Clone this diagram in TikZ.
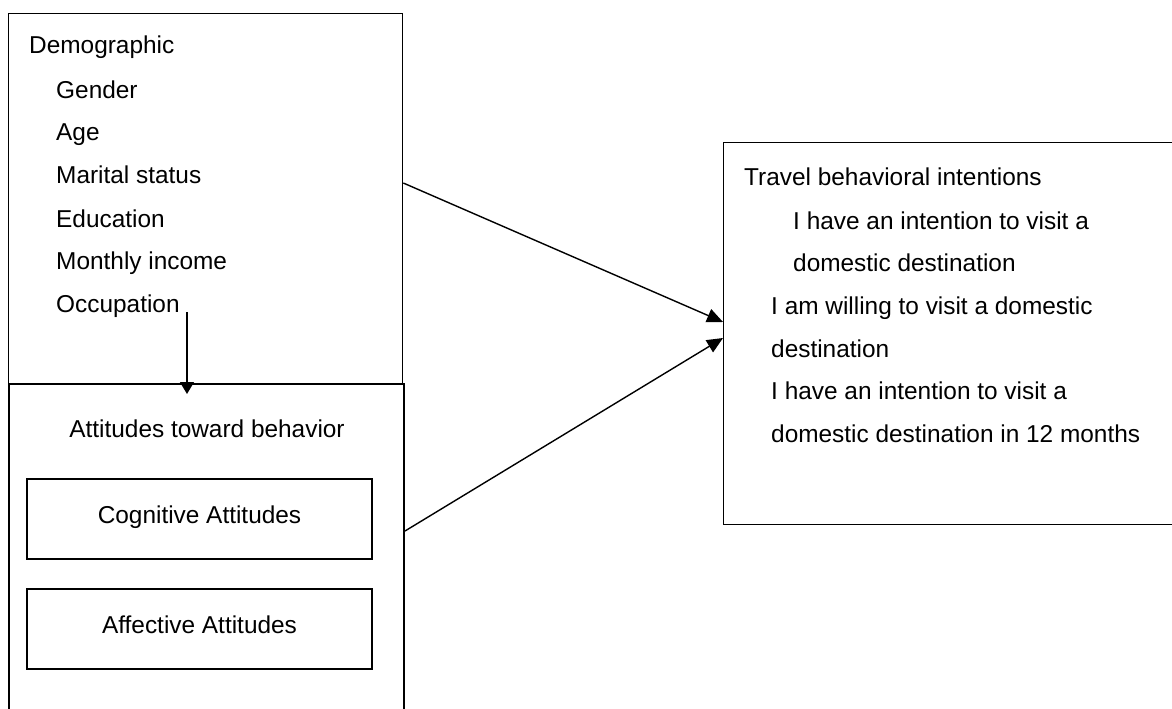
\documentclass[tikz,border=0pt]{standalone}
\usepackage{fontspec}
\setmainfont{Liberation Sans}
\usetikzlibrary{arrows.meta}
\begin{document}
\begin{tikzpicture}[x=1pt,y=-1pt,
  txt/.style={inner sep=0pt, anchor=base west, font=\fontsize{24.4}{28}\selectfont},
  ctxt/.style={txt, anchor=base},
  frame/.style={draw, line width=1.3pt, inner sep=0pt, anchor=north west},
  subbox/.style={draw, line width=1.5pt, inner sep=0pt, minimum width=345pt,
    minimum height=80pt, text height=17pt, text depth=9pt,
    font=\fontsize{24.4}{28}\selectfont},
  arr/.style={line width=1.4pt, -{Triangle[length=16pt,width=14pt]}},
  arrs/.style={line width=1.4pt, -{Triangle[length=12pt,width=14pt]}}
]
\useasboundingbox (0,0) rectangle (1172,709);

% outer frames
\node[frame, minimum width=394pt, minimum height=370pt] (demo) at (8,13) {};
\node[frame, line width=2pt, minimum width=395pt, minimum height=360pt] (att) at (8,383) {};
\node[frame, minimum width=470pt, minimum height=382pt] (tbi) at (723,142) {};

% demographic variables
\node[txt] (demot) at (29,54) {Demographic};
\node[txt] (gen) at (56,98) {Gender};
\node[txt] (age) at (56,140) {Age};
\node[txt] (mar) at (56,183) {Marital status};
\node[txt] (edu) at (56,227) {Education};
\node[txt] (inc) at (56,269) {Monthly income};
\node[txt] (occ) at (56,312) {Occupation};

% attitudes
\node[ctxt] (attt) at (207,437) {Attitudes toward behavior};
\node[subbox] (cog) at (199.5,519) {Cognitive Attitudes};
\node[subbox] (aff) at (199.5,629) {Affective Attitudes};

% travel behavioural intentions
\node[txt] (tbit) at (744,185) {Travel behavioral intentions};
\node[txt] (i1a) at (793,229) {I have an intention to visit a};
\node[txt] (i1b) at (793,271) {domestic destination};
\node[txt] (i2a) at (771,314) {I am willing to visit a domestic};
\node[txt] (i2b) at (771,357) {destination};
\node[txt] (i3a) at (771,399) {I have an intention to visit a};
\node[txt] (i3b) at (771,442) {domestic destination in 12 months};

% connector end points
\coordinate (s1) at (demo.east |- mar.base);
\coordinate (s2) at (att.north east |- 0,531);
\coordinate (t1) at (tbi.north west |- 0,322);
\coordinate (t2) at (tbi.north west |- 0,338);
\coordinate (dtop) at (187,312);
\coordinate (dbot) at (dtop |- 0,394);

% connectors
\draw[arr] (s1) -- (t1);
\draw[arr] (s2) -- (t2);
\draw[arrs] (dtop) -- (dbot);
\end{tikzpicture}
\end{document}
